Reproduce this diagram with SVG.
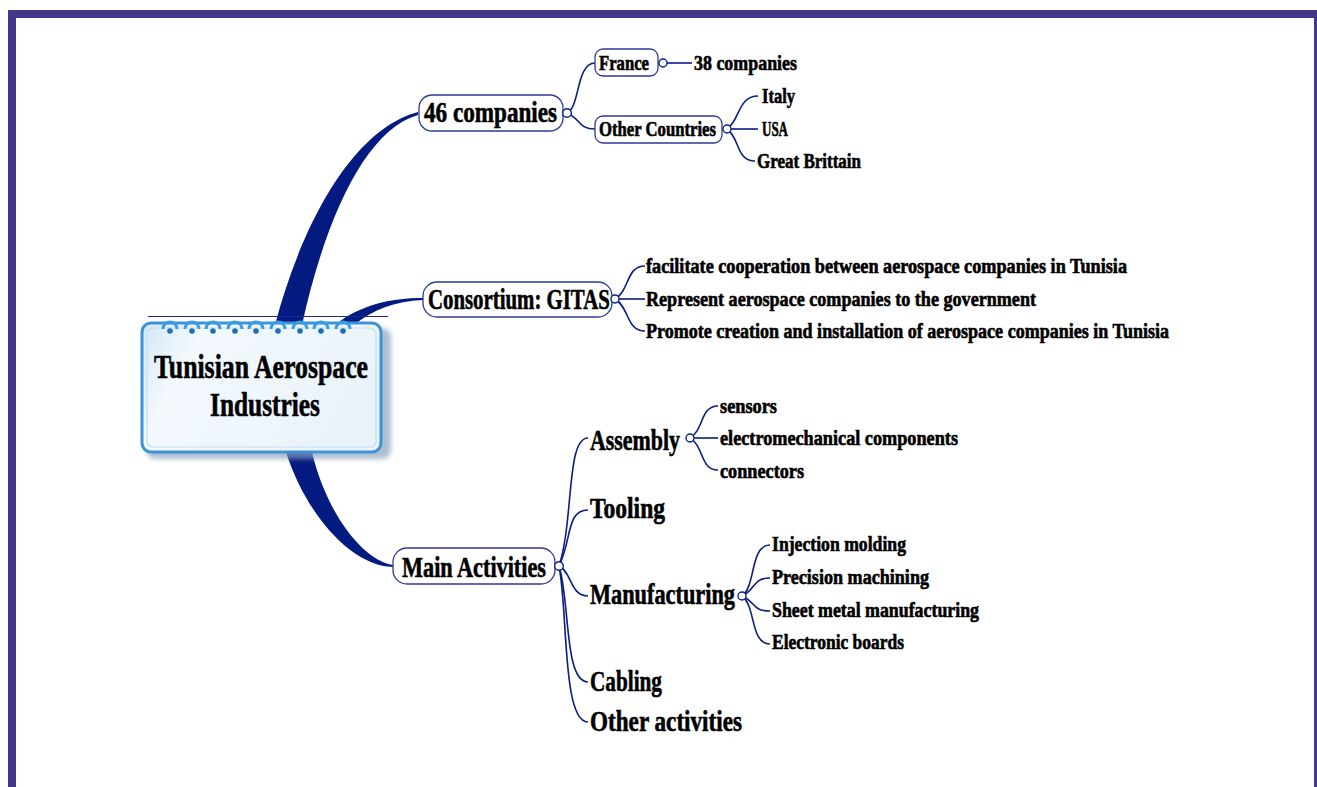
<svg xmlns="http://www.w3.org/2000/svg" width="1317" height="787" viewBox="0 0 1317 787">
<defs>
<style>
.t{font-family:"Liberation Serif","Times New Roman",serif;font-weight:bold;fill:#000;stroke:#000;stroke-width:0.6}
.box{fill:#fff;stroke:#2e3a98;stroke-width:1.3}
.ln{fill:none;stroke:#0a1e82;stroke-width:1.6}
.dot{fill:#fff;stroke:#0a1e82;stroke-width:1.4}
.br{fill:#031a80}
.ring{fill:none;stroke:#3a9ce2;stroke-width:3}
.rdot{fill:#1a6fba}
</style>
<linearGradient id="pad" x1="0" y1="0" x2="1" y2="0.3">
<stop offset="0" stop-color="#d3e7f6"/>
<stop offset="0.25" stop-color="#f3f9fd"/>
<stop offset="1" stop-color="#eaf3fa"/>
</linearGradient>
<filter id="sh" x="-10%" y="-10%" width="130%" height="130%">
<feGaussianBlur stdDeviation="2.5"/>
</filter>
</defs>
<rect width="1317" height="787" fill="#fff"/>
<!-- frame -->
<g id="frame" fill="#443689">
<rect x="8" y="10" width="1309" height="8"/>
<rect x="8" y="10" width="8" height="777"/>
<rect x="1314" y="10" width="3" height="777"/>
</g>
<!-- main branches -->
<g id="connectors">
<path class="br" d="M275,325 C300,230 350,130 418,112 L418,115 C365,130 325,220 302,325 Z"/>
<path class="br" d="M335,325 C360,305 390,298 423,298 L423,300 C395,301 372,310 354,325 Z"/>
<path class="br" d="M286,452 C305,512 350,566 393,567 L393,565 C362,560 326,512 312,452 Z"/>
<!-- 46 companies -->
<path class="ln" d="M567,113 C580,108 576,63 595,63"/>
<path class="ln" d="M567,113 C580,118 578,129 595,129"/>
<path class="ln" d="M667,63 H692"/>
<path class="ln" d="M727,129 C740,120 738,96 758,96"/>
<path class="ln" d="M731,129 H758"/>
<path class="ln" d="M727,129 C740,138 736,161 755,161"/>
<!-- consortium -->
<path class="ln" d="M615,299 C630,290 626,266 645,266"/>
<path class="ln" d="M619,299 H645"/>
<path class="ln" d="M615,299 C630,308 626,331 645,331"/>
<!-- main activities -->
<path class="ln" d="M559,566 C574,520 566,438 588,438"/>
<path class="ln" d="M559,566 C572,540 566,510 588,510"/>
<path class="ln" d="M559,566 C572,572 570,596 588,596"/>
<path class="ln" d="M559,566 C570,600 564,682 588,682"/>
<path class="ln" d="M559,566 C568,610 562,722 588,722"/>
<!-- assembly -->
<path class="ln" d="M690,438 C704,430 700,406 718,406"/>
<path class="ln" d="M694,438 H718"/>
<path class="ln" d="M690,438 C704,446 700,470 718,470"/>
<!-- manufacturing -->
<path class="ln" d="M742,596 C756,586 750,545 770,545"/>
<path class="ln" d="M742,596 C756,590 752,578 770,578"/>
<path class="ln" d="M742,596 C756,602 752,611 770,611"/>
<path class="ln" d="M742,596 C756,606 750,644 770,644"/>
</g>
<!-- central node -->
<g id="center">
<line x1="148" y1="316.5" x2="388" y2="316.5" stroke="#1a2a8a" stroke-width="1.2"/>
<rect x="146" y="328" width="245" height="131" rx="9" fill="#8aa3bf" opacity="0.7" filter="url(#sh)"/>
<rect x="142" y="323" width="239" height="129" rx="9" fill="url(#pad)" stroke="#3d93d6" stroke-width="3"/>
<rect x="147" y="328" width="229" height="119" rx="6" fill="none" stroke="#bfe0f7" stroke-width="1.2"/>
<g>
<path class="ring" d="M163,329 a7,7 0 1,1 14,0"/><circle class="rdot" cx="170" cy="331" r="2.8"/>
<path class="ring" d="M185,329 a7,7 0 1,1 14,0"/><circle class="rdot" cx="192" cy="331" r="2.8"/>
<path class="ring" d="M206,329 a7,7 0 1,1 14,0"/><circle class="rdot" cx="213" cy="331" r="2.8"/>
<path class="ring" d="M228,329 a7,7 0 1,1 14,0"/><circle class="rdot" cx="235" cy="331" r="2.8"/>
<path class="ring" d="M249,329 a7,7 0 1,1 14,0"/><circle class="rdot" cx="256" cy="331" r="2.8"/>
<path class="ring" d="M271,329 a7,7 0 1,1 14,0"/><circle class="rdot" cx="278" cy="331" r="2.8"/>
<path class="ring" d="M293,329 a7,7 0 1,1 14,0"/><circle class="rdot" cx="300" cy="331" r="2.8"/>
<path class="ring" d="M314,329 a7,7 0 1,1 14,0"/><circle class="rdot" cx="321" cy="331" r="2.8"/>
<path class="ring" d="M336,329 a7,7 0 1,1 14,0"/><circle class="rdot" cx="343" cy="331" r="2.8"/>
</g>
<text class="t" x="154" y="378" font-size="34" textLength="214" lengthAdjust="spacingAndGlyphs">Tunisian Aerospace</text>
<text class="t" x="210" y="416" font-size="34" textLength="110" lengthAdjust="spacingAndGlyphs">Industries</text>
</g>
<!-- 46 companies -->
<g id="n46">
<rect class="box" x="419" y="95" width="144" height="36" rx="13"/>
<text class="t" x="424" y="122" font-size="29" textLength="133" lengthAdjust="spacingAndGlyphs">46 companies</text>
<circle class="dot" cx="567" cy="113" r="4.3"/>
</g>
<g id="france">
<rect class="box" x="595" y="49" width="63" height="27" rx="8"/>
<text class="t" x="599" y="70" font-size="21" textLength="50" lengthAdjust="spacingAndGlyphs">France</text>
<circle class="dot" cx="663" cy="63" r="4"/>
</g>
<g id="n38"><text class="t" x="694" y="70" font-size="21" textLength="103" lengthAdjust="spacingAndGlyphs">38 companies</text></g>
<g id="other">
<rect class="box" x="595" y="116" width="127" height="27" rx="8"/>
<text class="t" x="599" y="136" font-size="21" textLength="117" lengthAdjust="spacingAndGlyphs">Other Countries</text>
<circle class="dot" cx="727" cy="129" r="4"/>
</g>
<g id="italy"><text class="t" x="762" y="103" font-size="21" textLength="33" lengthAdjust="spacingAndGlyphs">Italy</text></g>
<g id="usa"><text class="t" x="762" y="136" font-size="21" textLength="26" lengthAdjust="spacingAndGlyphs">USA</text></g>
<g id="gb"><text class="t" x="757" y="168" font-size="21" textLength="104" lengthAdjust="spacingAndGlyphs">Great Brittain</text></g>
<!-- consortium -->
<g id="gitas">
<rect class="box" x="423" y="282" width="189" height="35" rx="14"/>
<text class="t" transform="translate(428,309) scale(0.718,1)" x="0" y="0" font-size="29">Consortium: GITAS</text>
<circle class="dot" cx="615" cy="299" r="4"/>
</g>
<g id="c1"><text class="t" x="646" y="273" font-size="21" textLength="481" lengthAdjust="spacingAndGlyphs">facilitate cooperation between aerospace companies in Tunisia</text></g>
<g id="c2"><text class="t" x="646" y="306" font-size="21" textLength="390" lengthAdjust="spacingAndGlyphs">Represent aerospace companies to the government</text></g>
<g id="c3"><text class="t" x="646" y="338" font-size="21" textLength="523" lengthAdjust="spacingAndGlyphs">Promote creation and installation of aerospace companies in Tunisia</text></g>
<!-- main activities -->
<g id="main">
<rect class="box" x="393" y="548" width="162" height="36" rx="14"/>
<text class="t" x="402" y="577" font-size="29" textLength="144" lengthAdjust="spacingAndGlyphs">Main Activities</text>
<circle class="dot" cx="559" cy="566" r="4.3"/>
</g>
<g id="assembly">
<text class="t" x="590" y="450" font-size="29" textLength="90" lengthAdjust="spacingAndGlyphs">Assembly</text>
<circle class="dot" cx="690" cy="438" r="4"/>
</g>
<g id="sensors"><text class="t" x="720" y="413" font-size="21" textLength="57" lengthAdjust="spacingAndGlyphs">sensors</text></g>
<g id="electro"><text class="t" x="720" y="445" font-size="21" textLength="238" lengthAdjust="spacingAndGlyphs">electromechanical components</text></g>
<g id="connectors-n"><text class="t" x="720" y="478" font-size="21" textLength="84" lengthAdjust="spacingAndGlyphs">connectors</text></g>
<g id="tooling"><text class="t" x="590" y="518" font-size="29" textLength="75" lengthAdjust="spacingAndGlyphs">Tooling</text></g>
<g id="manufacturing">
<text class="t" x="590" y="604" font-size="29" textLength="145" lengthAdjust="spacingAndGlyphs">Manufacturing</text>
<circle class="dot" cx="742" cy="596" r="4"/>
</g>
<g id="inj"><text class="t" x="772" y="551" font-size="21" textLength="134" lengthAdjust="spacingAndGlyphs">Injection molding</text></g>
<g id="prec"><text class="t" x="772" y="584" font-size="21" textLength="157" lengthAdjust="spacingAndGlyphs">Precision machining</text></g>
<g id="sheet"><text class="t" x="772" y="617" font-size="21" textLength="207" lengthAdjust="spacingAndGlyphs">Sheet metal manufacturing</text></g>
<g id="elec"><text class="t" x="772" y="649" font-size="21" textLength="132" lengthAdjust="spacingAndGlyphs">Electronic boards</text></g>
<g id="cabling"><text class="t" x="590" y="691" font-size="29" textLength="72" lengthAdjust="spacingAndGlyphs">Cabling</text></g>
<g id="otheract"><text class="t" x="590" y="731" font-size="29" textLength="152" lengthAdjust="spacingAndGlyphs">Other activities</text></g>
</svg>
